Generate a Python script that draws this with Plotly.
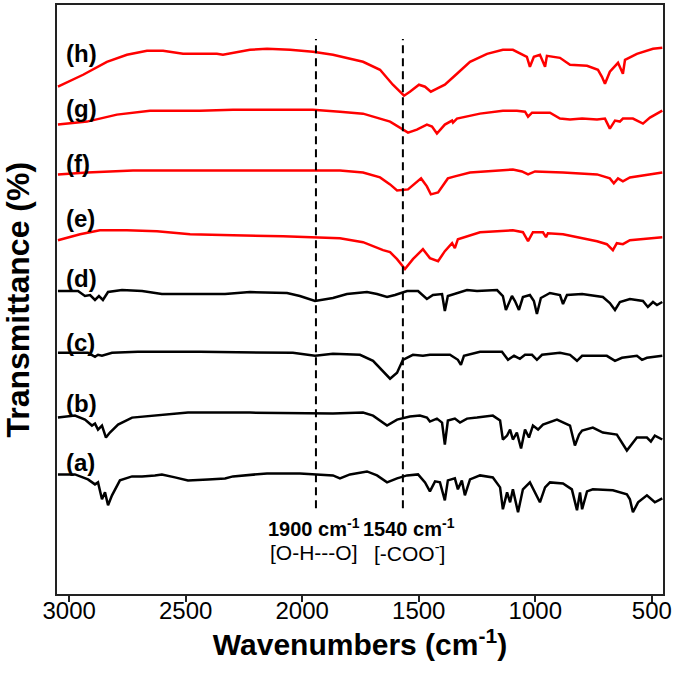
import plotly.graph_objects as go

# FTIR spectra (wavenumber in cm-1, transmittance in stacked arbitrary units)
wn_a = [3048, 2975, 2919, 2889, 2876, 2859, 2846, 2833, 2816, 2803, 2782, 2730, 2687, 2632, 2602, 2546, 2490,
        2404, 2331, 2297, 2151, 2010, 1868, 1838, 1795, 1722, 1679, 1636, 1593, 1550, 1503, 1473, 1452, 1430,
        1409, 1388, 1375, 1345, 1332, 1315, 1302, 1280, 1237, 1182, 1151, 1139, 1121, 1108, 1096, 1074, 1053,
        1023, 1001, 980, 958, 937, 881, 843, 821, 808, 799, 778, 753, 667, 607, 594, 581, 559, 521, 487, 455]
t_a = [126, 126, 121, 116, 118, 101, 108, 95, 105, 111, 120, 124, 124, 125, 126, 123, 120,
       121, 122, 124, 127, 127, 125, 122, 126, 129, 125, 118, 122, 125, 126, 118, 109, 119,
       118, 100, 120, 122, 111, 120, 105, 121, 125, 123, 113, 91, 108, 98, 111, 88, 111,
       118, 108, 98, 113, 118, 117, 111, 90, 108, 91, 109, 111, 110, 106, 101, 88, 98, 105, 98, 102]

wn_b = [3048, 2975, 2932, 2902, 2889, 2876, 2859, 2842, 2825, 2790, 2730, 2632, 2490, 2331, 2224, 1868, 1739,
        1696, 1636, 1593, 1538, 1495, 1465, 1452, 1422, 1400, 1388, 1375, 1345, 1323, 1293, 1250, 1182, 1151,
        1139, 1121, 1108, 1096, 1079, 1061, 1044, 1027, 1010, 988, 967, 907, 851, 830, 812, 799, 753, 710,
        650, 607, 564, 521, 504, 487, 455]
t_b = [183, 185, 181, 175, 177, 171, 175, 163, 168, 176, 183, 185, 188, 188, 188, 187, 188,
       185, 175, 181, 184, 185, 183, 179, 182, 178, 156, 180, 182, 178, 182, 183, 185, 180,
       161, 165, 171, 161, 168, 152, 171, 163, 175, 171, 176, 181, 175, 155, 166, 170, 173, 168,
       166, 150, 163, 163, 159, 165, 161]

wn_c = [3048, 2919, 2889, 2876, 2859, 2816, 2705, 2439, 2040, 1945, 1868, 1752, 1696, 1653, 1623, 1593, 1568,
        1525, 1482, 1452, 1366, 1332, 1319, 1306, 1237, 1143, 1117, 1091, 1066, 1044, 1014, 993, 971, 894,
        851, 821, 799, 693, 658, 628, 564, 542, 521, 455]
t_c = [248, 248, 244, 246, 245, 248, 249, 249, 248, 245, 247, 246, 240, 230, 222, 228, 241,
       246, 245, 246, 246, 241, 236, 245, 249, 249, 241, 245, 242, 246, 246, 241, 246, 248,
       246, 240, 245, 245, 240, 243, 245, 241, 243, 245]

wn_d = [3048, 2962, 2932, 2910, 2889, 2872, 2855, 2833, 2773, 2687, 2602, 2490, 2331, 2224, 2065, 2010, 1945,
        1868, 1808, 1722, 1679, 1636, 1602, 1550, 1503, 1465, 1439, 1400, 1388, 1375, 1345, 1293, 1250, 1164,
        1139, 1126, 1100, 1087, 1070, 1053, 1023, 1006, 993, 976, 937, 894, 881, 864, 799, 710, 680, 658,
        637, 594, 538, 517, 495, 478, 455]
t_d = [310, 310, 305, 306, 301, 305, 301, 309, 311, 310, 307, 307, 307, 309, 308, 305, 300,
       303, 307, 309, 307, 304, 306, 310, 310, 302, 306, 307, 290, 305, 307, 311, 310, 311,
       305, 291, 305, 300, 291, 304, 306, 300, 287, 303, 308, 306, 297, 306, 307, 304, 298, 291,
       299, 302, 300, 294, 299, 296, 299]

wn_e = [3048, 2953, 2868, 2752, 2623, 2481, 2297, 2082, 1838, 1739, 1653, 1623, 1593, 1559, 1525, 1482, 1452,
        1417, 1388, 1357, 1345, 1332, 1237, 1096, 1053, 1031, 1010, 967, 954, 946, 881, 735, 693, 667, 650,
        624, 594, 455]
t_e = [361, 367, 371, 371, 370, 367, 366, 365, 363, 359, 351, 349, 342, 332, 342, 352, 343,
       340, 350, 358, 353, 362, 369, 371, 369, 360, 369, 369, 364, 368, 367, 360, 357, 351, 358,
       357, 361, 364]

wn_f = [3048, 2923, 2726, 2439, 2010, 1838, 1739, 1666, 1623, 1593, 1546, 1508, 1490, 1465, 1448, 1417, 1375,
        1345, 1280, 1096, 1057, 1031, 1001, 881, 735, 680, 663, 645, 624, 594, 521, 455]
t_f = [427, 429, 431, 431, 431, 431, 429, 424, 417, 411, 412, 420, 423, 415, 407, 409, 423,
       425, 429, 432, 430, 427, 430, 429, 427, 423, 418, 423, 420, 424, 427, 429]

wn_g = [3048, 2923, 2795, 2653, 2439, 2297, 2151, 1954, 1838, 1739, 1623, 1572, 1546, 1508, 1465, 1443, 1422,
        1388, 1357, 1353, 1336, 1237, 1139, 1079, 1044, 1031, 1014, 937, 894, 851, 799, 735, 701, 680, 658,
        637, 624, 581, 538, 508, 455]
t_g = [477, 480, 487, 491, 491, 492, 492, 492, 490, 488, 480, 473, 469, 472, 477, 475, 468,
       477, 481, 479, 483, 488, 491, 491, 490, 485, 489, 489, 483, 482, 483, 482, 483, 473, 481,
       480, 483, 483, 478, 484, 491]

wn_h = [3048, 2940, 2838, 2752, 2666, 2597, 2511, 2439, 2366, 2340, 2297, 2224, 2151, 2052, 1954, 1868, 1739,
        1666, 1611, 1563, 1538, 1499, 1473, 1448, 1422, 1388, 1336, 1280, 1207, 1139, 1096, 1057, 1036, 1023,
        1006, 980, 958, 950, 894, 851, 778, 731, 714, 701, 680, 645, 624, 615, 564, 495, 455]
t_h = [515, 527, 540, 547, 551, 551, 548, 548, 548, 547, 549, 552, 553, 552, 550, 547, 540,
       532, 517, 506, 510, 517, 515, 510, 513, 517, 528, 540, 548, 552, 552, 547, 545, 535,
       545, 547, 535, 546, 544, 537, 536, 532, 525, 518, 530, 539, 528, 542, 548, 553, 554]

labels = ["(a)", "(b)", "(c)", "(d)", "(e)", "(f)", "(g)", "(h)"]
label_y = [138, 197, 258, 323, 383, 438, 493, 548]
colors = ["black"] * 4 + ["#ff0000"] * 4

marker_wn = [1941, 1568]
marker_top = ["1900 cm<sup>-1</sup>", "1540 cm<sup>-1</sup>"]
marker_bottom = ["[O-H---O]", "[-COO<sup>-</sup>]"]
marker_text_wn = [1950, 1540]

spectra = [(wn_a, t_a), (wn_b, t_b), (wn_c, t_c), (wn_d, t_d),
           (wn_e, t_e), (wn_f, t_f), (wn_g, t_g), (wn_h, t_h)]

FONT = "Liberation Sans, Arial, sans-serif"

fig = go.Figure()

for (wn, t), name, c in zip(spectra, labels, colors):
    fig.add_trace(go.Scatter(x=wn, y=t, mode="lines", name=name,
                             line=dict(color=c, width=2.5)))

# sample labels
for name, y in zip(labels, label_y):
    fig.add_annotation(x=3020, y=y, xref="x", yref="y", text="<b>%s</b>" % name,
                       showarrow=False, xanchor="left", yanchor="middle",
                       font=dict(size=24, color="black", family=FONT))

# dashed reference lines
for w, tw, top, bottom in zip(marker_wn, marker_text_wn, marker_top, marker_bottom):
    fig.add_shape(type="line", xref="x", yref="y", x0=w, x1=w, y0=92, y1=563,
                  line=dict(color="black", width=2, dash="8px,5px"))
    fig.add_annotation(x=tw, y=73, xref="x", yref="y", text="<b>%s</b>" % top, showarrow=False,
                       xanchor="center", yanchor="middle",
                       font=dict(size=20, color="black", family=FONT))
    fig.add_annotation(x=tw, y=48, xref="x", yref="y", text=bottom, showarrow=False,
                       xanchor="center", yanchor="middle",
                       font=dict(size=21, color="black", family=FONT))

fig.add_annotation(x=-0.066, y=0.50, xref="paper", yref="paper", text="<b>Transmittance (%)</b>",
                   textangle=-90, showarrow=False, xanchor="center", yanchor="middle",
                   font=dict(size=32, color="black", family=FONT))

fig.update_layout(
    width=675, height=676,
    margin=dict(l=57, r=12, t=3, b=82),
    paper_bgcolor="white", plot_bgcolor="white",
    showlegend=False,
    font=dict(family=FONT, color="black"),
    xaxis=dict(range=[3052, 452], tickvals=[3000, 2500, 2000, 1500, 1000, 500],
               ticks="outside", ticklen=6, tickwidth=1.5, tickcolor="#222",
               showline=True, linecolor="#222", linewidth=1.5, mirror=True,
               showgrid=False, zeroline=False, ticklabelstandoff=-12,
               tickfont=dict(size=24, family=FONT, color="black"),
               title=dict(text="<b>Wavenumbers (cm<sup>-1</sup>)</b>", standoff=0,
                          font=dict(size=30, family=FONT, color="black"))),
    yaxis=dict(range=[6, 597], showticklabels=False, ticks="",
               showline=True, linecolor="#222", linewidth=1.5, mirror=True,
               showgrid=False, zeroline=False),
)

# drop the default page margin so the figure sits at the window origin
fig.write_html("out.html", config={"displayModeBar": False},
               post_script="document.body.style.margin='0';")
